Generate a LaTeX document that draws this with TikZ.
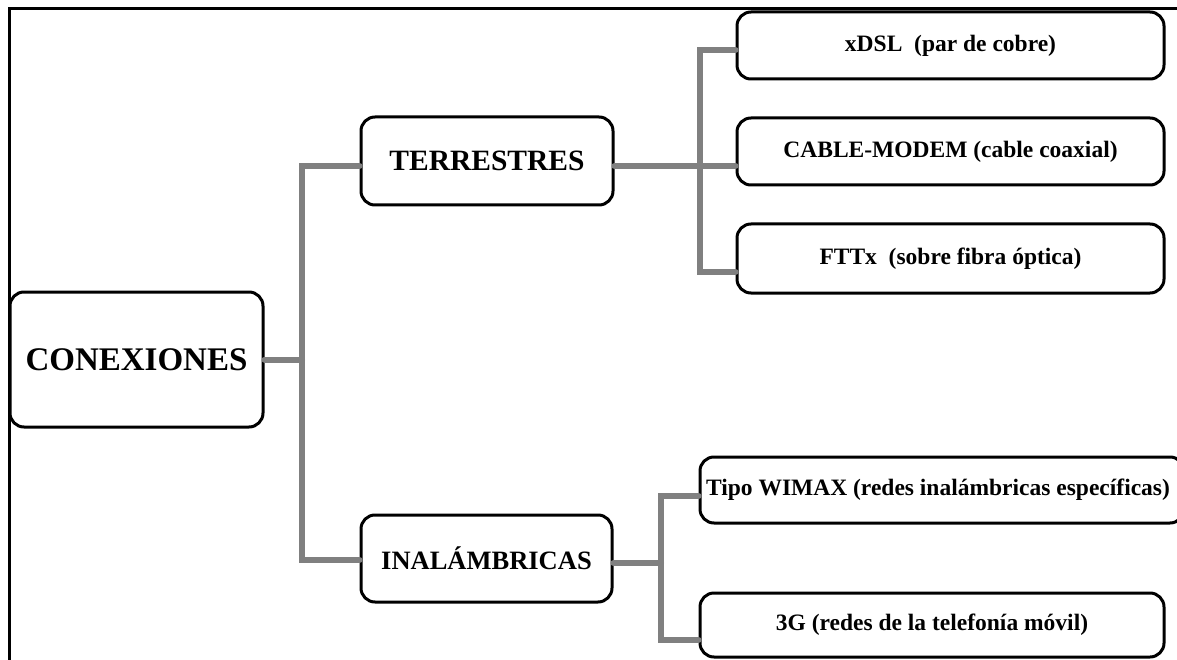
\documentclass[tikz,border=0pt]{standalone}
\usepackage{fontspec}
\setmainfont{Liberation Serif}
\begin{document}
\begin{tikzpicture}[x=1pt,y=-1pt,
  box/.style={draw=black,line width=3pt,rounded corners=14pt,fill=white,
    align=center,inner sep=0pt,font=\bfseries},
  small/.style={box,font=\fontsize{23.5}{28}\selectfont\bfseries},
  big/.style={box,font=\fontsize{28}{33}\selectfont\bfseries},
  conn/.style={draw={rgb,255:red,128;green,128;blue,128},line width=6pt,line cap=round,line join=miter},
  frame/.style={draw=black,line width=3pt}]
\useasboundingbox[fill=white] (0,0) rectangle (1177,660);
\draw[frame] (9,660) -- (9,9) -- (1177,9);

\node[box,font=\fontsize{33}{38}\selectfont\bfseries,minimum width=253pt,minimum height=135pt] (con) at (136.5,359.5) {CONEXIONES};
\node[big,font=\fontsize{29.5}{34}\selectfont\bfseries,minimum width=252pt,minimum height=88pt] (terr) at (487,161) {TERRESTRES};
\node[big,font=\fontsize{26.5}{31}\selectfont\bfseries,minimum width=251pt,minimum height=87pt] (inal) at (486.5,558.5) {INALÁMBRICAS};

\node[small,minimum width=427pt,minimum height=67pt] (xdsl) at (950.5,45.5) {xDSL\ \ (par de cobre)};
\node[small,minimum width=427pt,minimum height=67pt] (cable) at (950.5,151.5) {CABLE-MODEM (cable coaxial)};
\node[small,minimum width=427pt,minimum height=69pt] (ftt) at (950.5,258.5) {FTTx\ \ (sobre fibra óptica)};
\node[small,minimum width=484pt,minimum height=66pt] (wimax) at (942,490) {};
\node[font=\fontsize{23.5}{28}\selectfont\bfseries,inner sep=0pt] (wimaxt) at (938,490) {Tipo WIMAX (redes inalámbricas específicas)};
\node[small,minimum width=464pt,minimum height=64pt] (g3) at (932,625) {3G (redes de la telefonía móvil)};

\coordinate (ja) at (302,166);
\coordinate (jb) at (302,560);
\draw[conn] (terr.west |- ja) -- (ja) -- (jb) -- (inal.west |- jb);
\draw[conn] (con.east) -- (con.east -| ja);

\coordinate (ka) at (700,50);
\coordinate (kb) at (700,272);
\coordinate (kc) at (700,166);
\draw[conn] (xdsl.west |- ka) -- (ka) -- (kb) -- (ftt.west |- kb);
\draw[conn] (terr.east |- kc) -- (cable.west |- kc);

\coordinate (ma) at (661,496);
\coordinate (mb) at (661,640);
\coordinate (mc) at (661,563);
\draw[conn] (wimax.west |- ma) -- (ma) -- (mb) -- (g3.west |- mb);
\draw[conn] (inal.east |- mc) -- (mc);
\end{tikzpicture}
\end{document}
